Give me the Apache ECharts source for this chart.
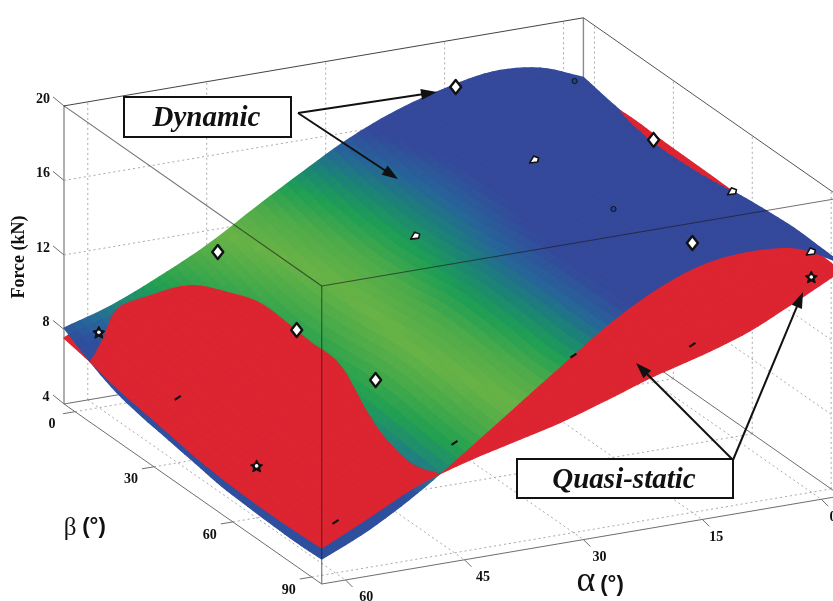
<!DOCTYPE html>
<html>
<head>
<meta charset="utf-8">
<style>html,body{margin:0;padding:0;background:#fff}#c{width:833px;height:601px}</style>
<script src="https://cdn.jsdelivr.net/npm/echarts@6/dist/echarts.min.js"></script>
</head>
<body>
<div id="c"></div>
<script>
// ---------- data ----------
const forceTicks = [4, 8, 12, 16, 20];
const alphaTicks = [60, 45, 30, 15, 0];
const betaTicks = [0, 30, 60, 90];
const alphaGrid = [63, 57, 51, 45, 39, 33, 27, 21, 15, 9, 3, -2.5];
const betaGrid = [-4.2, 5.8, 15.8, 25.8, 35.8, 45.8, 55.8, 65.8, 75.8, 85.8, 93.8];
const dynamicForce = [
  [8.08, 7.25, 6.6, 6.25, 6.0, 5.75, 5.5, 5.4, 5.33, 5.3, 5.34],
  [8.85, 8.2, 7.6, 7.2, 6.95, 6.8, 6.7, 6.6, 6.5, 6.45, 6.5],
  [9.95, 9.4, 8.9, 8.55, 8.35, 8.3, 8.3, 8.3, 8.2, 8.1, 8.0],
  [11.2, 10.8, 10.35, 10.05, 9.98, 10.1, 10.25, 10.25, 10.05, 9.85, 9.8],
  [12.75, 12.3, 11.9, 11.7, 11.75, 11.9, 12.1, 12.1, 11.95, 11.7, 11.65],
  [14.25, 13.8, 13.5, 13.3, 13.35, 13.55, 13.8, 13.8, 13.65, 13.45, 13.5],
  [15.65, 15.2, 14.9, 14.75, 14.8, 15.0, 15.2, 15.3, 15.3, 15.25, 15.3],
  [16.72, 16.3, 16.0, 15.95, 16.0, 16.2, 16.4, 16.5, 16.6, 16.7, 16.75],
  [17.45, 17.1, 16.85, 16.8, 16.9, 17.1, 17.3, 17.4, 17.5, 17.6, 17.7],
  [17.92, 17.55, 17.3, 17.2, 17.25, 17.4, 17.6, 17.75, 17.85, 17.95, 17.98],
  [17.7, 17.35, 17.1, 17.0, 17.05, 17.2, 17.35, 17.45, 17.6, 17.7, 17.7],
  [16.8, 16.5, 16.25, 16.05, 16.05, 16.15, 16.35, 16.5, 16.6, 16.55, 16.5]
];
const quasiForce = [
  [7.54, 7.25, 6.85, 6.6, 6.36, 6.1, 5.95, 5.87, 5.85, 5.88, 5.93],
  [8.8, 8.45, 8.1, 7.85, 7.6, 7.45, 7.35, 7.25, 7.15, 7.1, 7.15],
  [9.7, 9.7, 9.45, 9.15, 8.9, 8.8, 8.75, 8.7, 8.55, 8.4, 8.4],
  [10.7, 10.45, 10.29, 10.05, 9.96, 10.05, 10.0, 9.74, 9.3, 9.05, 9.23],
  [12.0, 11.3, 10.9, 10.6, 10.45, 10.4, 10.3, 10.2, 10.05, 9.9, 9.87],
  [13.2, 12.5, 12.0, 11.6, 11.3, 11.15, 11.0, 10.85, 10.7, 10.55, 10.5],
  [14.5, 13.6, 13.0, 12.5, 12.15, 11.95, 11.75, 11.55, 11.4, 11.3, 11.3],
  [15.5, 14.6, 13.9, 13.3, 12.95, 12.7, 12.5, 12.35, 12.2, 12.15, 12.15],
  [16.2, 15.3, 14.6, 14.0, 13.6, 13.35, 13.2, 13.05, 12.95, 12.9, 12.85],
  [16.5, 15.7, 15.1, 14.6, 14.25, 14.0, 13.9, 13.8, 13.7, 13.7, 13.7],
  [16.5, 15.9, 15.5, 15.2, 15.0, 14.9, 14.85, 14.85, 14.85, 14.9, 14.9],
  [16.2, 16.35, 16.42, 16.35, 16.32, 16.3, 16.25, 16.25, 16.2, 16.15, 16.07]
];
// test points [alpha, beta, force], grouped by how much of the marker shows
const fullMarkers = [[15,0,17.96],[0,30,17.0],[15,90,18.46],[45,0,11.27],[45,30,10.04],[45,60,10.32]];
const sliverMarkers = [[30,30,14.0],[15,30,17.0],[0,60,17.17],[0,90,16.9]];
const dotMarkers = [[0,0,17.2],[15,60,17.33]];
const starMarkers = [[60,0,8.05],[60,60,6.79],[0,90,15.56]];
const slashMarkers = [[60,30,7.48],[60,90,6.74],[45,90,9.9],[30,90,13.5],[15,90,13.0]];
const forceColorStops = [
  [7.8,'#2f4f9e'],[8.4,'#27699a'],[9.0,'#1f8a74'],[9.7,'#22a052'],[10.6,'#46aa4a'],[11.7,'#69b347'],
  [12.8,'#4dab4a'],[13.7,'#1f9f55'],[14.5,'#1c8278'],[15.2,'#27649a'],[16.0,'#35499b']
];

// ---------- view ----------
const RED = '#dc2531';
const SERIF = '"Liberation Serif","Times New Roman",serif';
const uOf = a => 63 - a, vOf = b => b + 4.2;
function projUV(u, v, f) {
  return [64 + 7.93*u + 2.63*v, 478.5 - 1.345*u + 1.837*v - 18.63*f];
}
const project = (a, b, f) => projUV(uOf(a), vOf(b), f);
const U0 = uOf(alphaGrid[0]), U1 = uOf(alphaGrid[alphaGrid.length-1]);
const V0 = vOf(betaGrid[0]), V1 = vOf(betaGrid[betaGrid.length-1]);

function hex(c){return [parseInt(c.substr(1,2),16),parseInt(c.substr(3,2),16),parseInt(c.substr(5,2),16)];}
const stopsRGB = forceColorStops.map(s=>[s[0],hex(s[1])]);
function colorOf(f){
  if(f<=stopsRGB[0][0])return forceColorStops[0][1];
  for(let i=1;i<stopsRGB.length;i++){
    if(f<=stopsRGB[i][0]){
      const t=(f-stopsRGB[i-1][0])/(stopsRGB[i][0]-stopsRGB[i-1][0]);
      const A=stopsRGB[i-1][1],B=stopsRGB[i][1];
      return 'rgb('+[0,1,2].map(k=>Math.round(A[k]+(B[k]-A[k])*t)).join(',')+')';
    }
  }
  return forceColorStops[forceColorStops.length-1][1];
}

// smooth drawing surface through the table values (Catmull-Rom)
const SU = 6, SV = 5;
function cr(p0,p1,p2,p3,t){
  return 0.5*((2*p1)+(-p0+p2)*t+(2*p0-5*p1+4*p2-p3)*t*t+(-p0+3*p1-3*p2+p3)*t*t*t);
}
function refine(T){
  const nu=T.length,nv=T[0].length;
  const g=(i,j)=>{
    const ci=Math.max(0,Math.min(nu-1,i)),cj=Math.max(0,Math.min(nv-1,j));
    let val=T[ci][cj];
    if(i<0)val=2*T[0][cj]-T[1][cj];
    if(i>nu-1)val=2*T[nu-1][cj]-T[nu-2][cj];
    if(j<0)val=2*T[ci][0]-T[ci][1];
    if(j>nv-1)val=2*T[ci][nv-1]-T[ci][nv-2];
    return val;
  };
  const R=[];
  for(let I=0;I<=(nu-1)*SU;I++){
    const i=Math.min(nu-2,Math.floor(I/SU)),s=I/SU-i,row=[];
    for(let J=0;J<=(nv-1)*SV;J++){
      const j=Math.min(nv-2,Math.floor(J/SV)),t=J/SV-j;
      const c=[-1,0,1,2].map(di=>cr(g(i+di,j-1),g(i+di,j),g(i+di,j+1),g(i+di,j+2),t));
      row.push(cr(c[0],c[1],c[2],c[3],s));
    }
    R.push(row);
  }
  return R;
}
const fineD = refine(dynamicForce), fineQ = refine(quasiForce);
const NU = fineD.length-1, NV = fineD[0].length-1;
function uAt(I){
  const p=I/SU,i=Math.min(alphaGrid.length-2,Math.floor(p));
  return uOf(alphaGrid[i])+(uOf(alphaGrid[i+1])-uOf(alphaGrid[i]))*(p-i);
}
function vAt(J){
  const p=J/SV,j=Math.min(betaGrid.length-2,Math.floor(p));
  return vOf(betaGrid[j])+(vOf(betaGrid[j+1])-vOf(betaGrid[j]))*(p-j);
}
// cells from far corner to near corner
const cells=[];
for(let I=NU-1;I>=0;I--)for(let J=0;J<NV;J++)cells.push([I,J]);

function clip(poly,keepPositive){
  const out=[];
  const sgn=keepPositive?1:-1;
  for(let k=0;k<poly.length;k++){
    const A=poly[k],B=poly[(k+1)%poly.length];
    const da=sgn*(A.q-A.d),db=sgn*(B.q-B.d);
    if(da>=0)out.push(A);
    if((da>=0)!==(db>=0)){
      const t=da/(da-db);
      out.push({u:A.u+(B.u-A.u)*t,v:A.v+(B.v-A.v)*t,q:A.q+(B.q-A.q)*t,d:A.d+(B.d-A.d)*t});
    }
  }
  return out;
}
function face(poly,key,fill,api){
  const pts=poly.map(p=>api.coord(projUV(p.u,p.v,p[key])));
  return {type:'polygon',shape:{points:pts},style:{fill:fill,stroke:fill,lineWidth:1.3,lineJoin:'round'},silent:true};
}
function avg(poly,key){let s=0;poly.forEach(p=>s+=p[key]);return s/poly.length;}
function renderCell(params,api){
  const I=api.value(0),J=api.value(1);
  const vert=(a,b)=>({u:uAt(a),v:vAt(b),q:fineQ[a][b],d:fineD[a][b]});
  const quad=[vert(I,J),vert(I+1,J),vert(I+1,J+1),vert(I,J+1)];
  const kids=[];
  const qTop=clip(quad,true), dTop=clip(quad,false);
  if(dTop.length>2){
    kids.push(face(dTop,'q',RED,api));
    kids.push(face(dTop,'d',colorOf(avg(dTop,'d')),api));
  }
  if(qTop.length>2){
    kids.push(face(qTop,'d',colorOf(avg(qTop,'d')),api));
    kids.push(face(qTop,'q',RED,api));
  }
  return {type:'group',children:kids};
}

// ---------- static pieces ----------
function lineEl(api,A,B,style){
  const a=api.coord(A),b=api.coord(B);
  return {type:'line',shape:{x1:a[0],y1:a[1],x2:b[0],y2:b[1]},style:Object.assign({fill:null},style),silent:true};
}
function textEl(api,P,text,style,rot){
  const p=api.coord(P);
  return {type:'text',x:p[0],y:p[1],rotation:rot||0,silent:true,
    style:Object.assign({text:text,fontFamily:SERIF,fill:'#111',textAlign:'center',textVerticalAlign:'middle'},style)};
}
function staticSeries(builders,z){
  return {type:'custom',coordinateSystem:'cartesian2d',z:z,silent:true,animation:false,clip:false,
    data:builders.map((_,i)=>[i]),
    encode:{x:0,y:0},
    renderItem:(params,api)=>builders[params.dataIndex](api)};
}
const DOT={stroke:'#a9a9a9',lineWidth:1,lineDash:[2,3]};
const EDGE={stroke:'#6e6e6e',lineWidth:1};
const over={stroke:'rgba(25,25,25,0.62)',lineWidth:1.1};
const Fmin=forceTicks[0],Fmax=forceTicks[forceTicks.length-1];
const back=[];
const L=(A,B,S)=>back.push(api=>lineEl(api,A,B,S));
forceTicks.slice(1,-1).forEach(f=>{
  L(projUV(U0,V0,f),projUV(U1,V0,f),DOT);
  L(projUV(U1,V0,f),projUV(U1,V1,f),DOT);
});
alphaTicks.forEach(a=>{
  const u=uOf(a);
  L(projUV(u,V0,Fmin),projUV(u,V0,Fmax),DOT);
  L(projUV(u,V0,Fmin),projUV(u,V1,Fmin),DOT);
});
betaTicks.forEach(b=>{
  const v=vOf(b);
  L(projUV(U1,v,Fmin),projUV(U1,v,Fmax),DOT);
  L(projUV(U0,v,Fmin),projUV(U1,v,Fmin),DOT);
});
L(projUV(U0,V0,Fmin),projUV(U0,V0,Fmax),{stroke:'#9c9c9c',lineWidth:1.6});
L(projUV(U1,V0,Fmin),projUV(U1,V0,Fmax),{stroke:'#8a8a8a',lineWidth:1.4});
L(projUV(U0,V0,Fmax),projUV(U1,V0,Fmax),{stroke:'#444',lineWidth:1});
L(projUV(U1,V0,Fmax),projUV(U1,V1,Fmax),{stroke:'#555',lineWidth:1});
L(projUV(U0,V0,Fmin),projUV(U1,V0,Fmin),EDGE);
L(projUV(U1,V0,Fmin),projUV(U1,V1,Fmin),EDGE);

const front=[];
const FL=(A,B,S)=>front.push(api=>lineEl(api,A,B,S));
FL(projUV(U0,V1,Fmin),projUV(U0,V1,Fmax),over);
FL(projUV(U0,V0,Fmax),projUV(U0,V1,Fmax),over);
FL(projUV(U0,V1,Fmax),projUV(U1,V1,Fmax),over);
FL(projUV(U0,V0,Fmin),projUV(U0,V1,Fmin),EDGE);
FL(projUV(U0,V1,Fmin),projUV(U1,V1,Fmin),EDGE);
// tick marks and labels
forceTicks.forEach(f=>{
  const P=projUV(U0,V0,f);
  FL(P,[P[0]-11,P[1]-9],EDGE);
  front.push(api=>textEl(api,[P[0]-21+(f<10?3:0),P[1]-7],String(f),{fontSize:14,fontWeight:'bold',textAlign:'center'}));
});
alphaTicks.forEach(a=>{
  const P=projUV(uOf(a),V1,Fmin);
  FL(P,[P[0]+7,P[1]+7],EDGE);
  front.push(api=>textEl(api,[833-7.78*a,517+1.335*a],String(a),{fontSize:14,fontWeight:'bold'}));
});
betaTicks.forEach(b=>{
  const P=projUV(U0,vOf(b),Fmin);
  FL(P,[P[0]-12,P[1]+2],EDGE);
  front.push(api=>textEl(api,[P[0]-23,P[1]+13],String(b),{fontSize:14,fontWeight:'bold'}));
});
front.push(api=>textEl(api,[19,257],'Force (kN)',{fontSize:18,fontWeight:'bold'},Math.PI/2));
front.push(api=>textEl(api,[70,528],'β',{fontSize:25,fontWeight:'normal'}));
front.push(api=>textEl(api,[94,527],'(°)',{fontSize:22,fontWeight:'bold',fontFamily:'"Liberation Sans",sans-serif'}));
front.push(api=>textEl(api,[586,582],'α',{fontSize:36,fontWeight:'normal'}));
front.push(api=>textEl(api,[612,585],'(°)',{fontSize:22,fontWeight:'bold',fontFamily:'"Liberation Sans",sans-serif'}));

// markers
function markerEl(kind,api,m){
  const c=api.coord(project(m[0],m[1],m[2])),x=c[0],y=c[1];
  const poly=(pts,fill,stroke,w)=>({type:'polygon',shape:{points:pts.map(p=>[x+p[0],y+p[1]])},style:{fill:fill,stroke:stroke,lineWidth:w,lineJoin:'round'},silent:true});
  if(kind==='full')return poly([[0,-7],[5.5,0],[0,7],[-5.5,0]],'#fff','#111',2.4);
  if(kind==='sliver')return poly([[-5,3],[-1,-4],[4,-2],[3,2]],'#fff','#111',1.6);
  if(kind==='dot')return {type:'circle',shape:{cx:x,cy:y,r:2.6},style:{fill:'#23418a',stroke:'#111',lineWidth:1},silent:true};
  if(kind==='star')return {type:'group',children:[
    poly([[0,-6],[2,-2],[6,-1],[3,2],[4,6],[0,4],[-4,6],[-3,2],[-6,-1],[-2,-2]],'#111','#111',1),
    {type:'circle',shape:{cx:x,cy:y,r:1.8},style:{fill:'#fff'},silent:true}]};
  return {type:'line',shape:{x1:x-3,y1:y+2,x2:x+3,y2:y-2},style:{stroke:'#111',lineWidth:2.2},silent:true};
}
const markerItems=[];
[['full',fullMarkers],['sliver',sliverMarkers],['dot',dotMarkers],['star',starMarkers],['slash',slashMarkers]]
  .forEach(g=>g[1].forEach(m=>markerItems.push(api=>markerEl(g[0],api,m))));

// call-outs
function arrow(api,A,B){
  const dx=B[0]-A[0],dy=B[1]-A[1],l=Math.hypot(dx,dy),ux=dx/l,uy=dy/l,h=16,w=5.5;
  const a=api.coord(A),b=api.coord([B[0]-ux*h*0.6,B[1]-uy*h*0.6]);
  return {type:'group',children:[
    {type:'line',shape:{x1:a[0],y1:a[1],x2:b[0],y2:b[1]},style:{stroke:'#111',lineWidth:2},silent:true},
    {type:'polygon',shape:{points:[B,[B[0]-ux*h-uy*w,B[1]-uy*h+ux*w],[B[0]-ux*h+uy*w,B[1]-uy*h-ux*w]].map(p=>api.coord(p))},style:{fill:'#111'},silent:true}
  ]};
}
function box(api,x0,y0,x1,y1,label,size){
  const a=api.coord([x0,y0]),b=api.coord([x1,y1]);
  return {type:'group',children:[
    {type:'rect',shape:{x:a[0],y:a[1],width:b[0]-a[0],height:b[1]-a[1]},style:{fill:'#fff',stroke:'#111',lineWidth:2},silent:true},
    textEl(api,[(x0+x1)/2-1,(y0+y1)/2+2],label,{fontSize:size,fontWeight:'bold',fontStyle:'italic'})
  ]};
}
const callouts=[
  api=>arrow(api,[298,113],[437,92]),
  api=>arrow(api,[298,113],[398,179]),
  api=>arrow(api,[733,460],[636,363]),
  api=>arrow(api,[733,460],[803,292]),
  api=>box(api,124,97,291,137,'Dynamic',29),
  api=>box(api,517,459,733,498,'Quasi-static',29)
];

const chart=echarts.init(document.getElementById('c'),null,{renderer:'canvas'});
chart.setOption({
  animation:false,
  backgroundColor:'#fff',
  grid:{left:0,right:0,top:0,bottom:0},
  xAxis:{type:'value',min:0,max:833,show:false},
  yAxis:{type:'value',min:0,max:601,inverse:true,show:false},
  series:[
    staticSeries(back,1),
    {type:'custom',coordinateSystem:'cartesian2d',z:2,silent:true,animation:false,clip:false,progressive:0,
      data:cells,encode:{x:0,y:1},renderItem:renderCell},
    staticSeries(front,3),
    staticSeries(markerItems,4),
    staticSeries(callouts,5)
  ]
});
</script>
</body>
</html>
